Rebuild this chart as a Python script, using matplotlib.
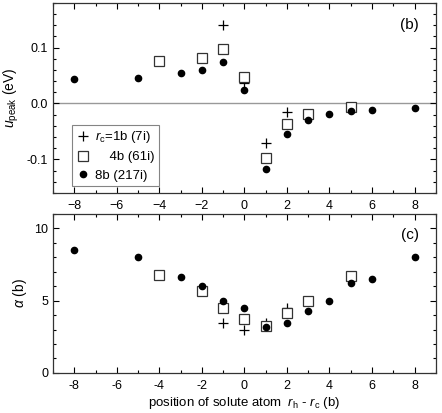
import numpy as np
import matplotlib
matplotlib.use("Agg")
import matplotlib.pyplot as plt
from matplotlib.ticker import MultipleLocator

plt.rcParams['font.family'] = ['Liberation Sans', 'DejaVu Sans']
plt.rcParams['mathtext.fontset'] = 'custom'
plt.rcParams['mathtext.rm'] = 'Liberation Sans'
plt.rcParams['mathtext.it'] = 'Liberation Sans:italic'
plt.rcParams['font.size'] = 9

# rc = 1b (7i)
x_1b = [-1, 0, 1, 2]
u_1b = [0.140, 0.036, -0.070, -0.015]
a_1b = [3.48, 2.98, 3.45, 4.52]

# rc = 4b (61i)
x_4b = [-4, -2, -1, 0, 1, 2, 3, 5]
u_4b = [0.076, 0.082, 0.098, 0.047, -0.097, -0.036, -0.018, -0.007]
a_4b = [6.79, 5.68, 4.48, 3.76, 3.28, 4.18, 5.0, 6.7]

# rc = 8b (217i)
x_8b = [-8, -5, -3, -2, -1, 0, 1, 2, 3, 4, 5, 6, 8]
u_8b = [0.043, 0.046, 0.054, 0.060, 0.074, 0.024, -0.117, -0.055, -0.029, -0.019, -0.014, -0.011, -0.008]
a_8b = [8.5, 8.0, 6.67, 6.0, 4.99, 4.48, 3.19, 3.46, 4.27, 5.0, 6.19, 6.49, 8.0]

fig = plt.figure(figsize=(4.42, 4.13), dpi=100)
ax1 = fig.add_axes([0.120, 0.533, 0.866, 0.460])
ax2 = fig.add_axes([0.120, 0.097, 0.866, 0.385])

def style(ax):
    ax.set_xlim(-9, 9)
    ax.xaxis.set_major_locator(MultipleLocator(2))
    ax.xaxis.set_minor_locator(MultipleLocator(1))
    ax.tick_params(which='both', direction='in', top=True, right=True, width=0.8)
    ax.tick_params(which='major', length=4)
    ax.tick_params(which='minor', length=2.5)
    ax.tick_params(axis='x', pad=5)
    for s in ax.spines.values():
        s.set_linewidth(0.9)
        s.set_color('#333333')

# top panel
ax1.axhline(0, color='#999999', lw=1.0, zorder=1)
ax1.plot(x_1b, u_1b, '+', color='black', ms=7, mew=0.9, ls='none', label=r'$r_{\rm c}$=1b (7i)')
ax1.plot(x_4b, u_4b, 's', mfc='white', mec='#333333', ms=7, mew=0.9, ls='none', label='    4b (61i)')
ax1.plot(x_8b, u_8b, 'o', color='black', ms=4.5, ls='none', label='8b (217i)')
style(ax1)
ax1.set_ylim(-0.16, 0.18)
ax1.set_yticks([-0.1, 0.0, 0.1])
ax1.set_yticklabels(['-0.1', '0.0', '0.1'])
ax1.yaxis.set_minor_locator(MultipleLocator(0.02))
ax1.set_ylabel(r'$u_{\rm peak}$ (eV)', fontsize=10)
ax1.text(0.955, 0.885, '(b)', transform=ax1.transAxes, ha='right', va='center', fontsize=11)
leg = ax1.legend(loc='lower left', bbox_to_anchor=(0.05, 0.035), frameon=True, fancybox=False,
                 edgecolor='#666666', handletextpad=0.4, borderpad=0.35, labelspacing=0.45,
                 handlelength=1.0, borderaxespad=0, fontsize=9.5)
leg.get_frame().set_linewidth(0.8)

# bottom panel
ax2.plot(x_1b, a_1b, '+', color='black', ms=7, mew=0.9, ls='none')
ax2.plot(x_4b, a_4b, 's', mfc='white', mec='#333333', ms=7, mew=0.9, ls='none')
ax2.plot(x_8b, a_8b, 'o', color='black', ms=4.5, ls='none')
style(ax2)
ax2.set_ylim(0, 11)
ax2.yaxis.set_major_locator(MultipleLocator(5))
ax2.yaxis.set_minor_locator(MultipleLocator(1))
ax2.set_ylabel(r'$\alpha$ (b)', fontsize=10)
ax2.set_xticklabels([str(int(v)) for v in ax2.get_xticks()])
ax2.set_xlabel(r'position of solute atom  $r_{\rm h}$ - $r_{\rm c}$ (b)', fontsize=9.5, labelpad=2)
ax2.text(0.955, 0.865, '(c)', transform=ax2.transAxes, ha='right', va='center', fontsize=11)

fig.savefig('out.png', dpi=100)
